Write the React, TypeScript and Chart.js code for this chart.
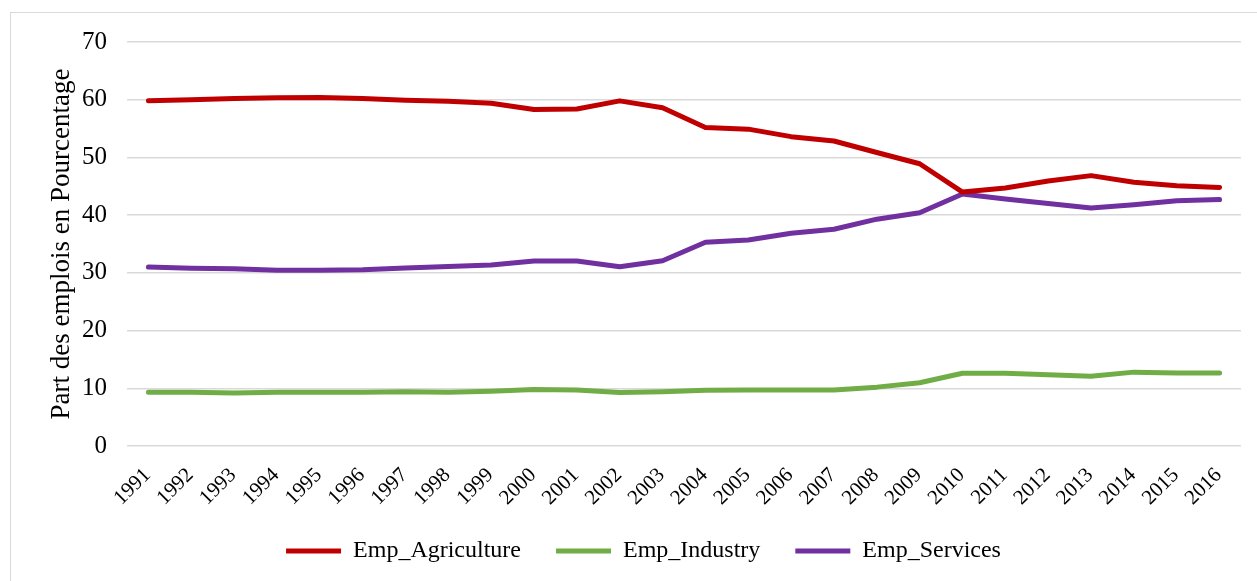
import React, { useEffect, useRef } from 'react';
import { Chart, registerables } from 'chart.js';

Chart.register(...registerables);

const years = ['1991', '1992', '1993', '1994', '1995', '1996', '1997', '1998', '1999', '2000', '2001', '2002', '2003', '2004', '2005', '2006', '2007', '2008', '2009', '2010', '2011', '2012', '2013', '2014', '2015', '2016'];

const agriculture = [59.8, 60.0, 60.2, 60.35, 60.4, 60.2, 59.9, 59.75, 59.4, 58.3, 58.4, 59.8, 58.6, 55.2, 54.9, 53.6, 52.85, 50.85, 48.9, 44.0, 44.7, 45.9, 46.85, 45.7, 45.1, 44.8];
const industry = [9.3, 9.3, 9.2, 9.3, 9.3, 9.3, 9.4, 9.3, 9.5, 9.8, 9.7, 9.25, 9.4, 9.65, 9.7, 9.7, 9.7, 10.2, 10.95, 12.6, 12.6, 12.35, 12.1, 12.8, 12.65, 12.65];
const services = [31.0, 30.8, 30.7, 30.45, 30.45, 30.55, 30.85, 31.1, 31.35, 32.05, 32.05, 31.05, 32.1, 35.3, 35.7, 36.85, 37.55, 39.3, 40.4, 43.65, 42.8, 42.0, 41.25, 41.8, 42.5, 42.7];

const seriesNames = ['Emp_Agriculture', 'Emp_Industry', 'Emp_Services'];
const seriesColors = ['#C00000', '#70AD47', '#7030A0'];
const yMin = 0;
const yMax = 70;
const yStep = 10;
const yTitle = 'Part des emplois en Pourcentage';

const FONT = '"Liberation Serif", "Times New Roman", serif';

// moves the bottom legend up so it sits closer to the rotated year labels
const legendNudge = {
  id: 'legendNudge',
  afterLayout(chart: any) {
    const l = chart.legend;
    if (l) {
      l.top -= 12;
    }
  },
};

export default function App() {
  const ref = useRef<HTMLCanvasElement | null>(null);

  useEffect(() => {
    if (!ref.current) return;
    const values = [agriculture, industry, services];
    const chart = new Chart(ref.current, {
      type: 'line',
      data: {
        labels: years,
        datasets: seriesNames.map((name, i) => ({
          label: name,
          data: values[i],
          borderColor: seriesColors[i],
          backgroundColor: seriesColors[i],
          borderWidth: 5,
          pointRadius: 0,
          pointHoverRadius: 0,
          tension: 0,
          borderCapStyle: 'round',
          borderJoinStyle: 'round',
          fill: false,
        })),
      },
      plugins: [legendNudge],
      options: {
        animation: false,
        responsive: false,
        maintainAspectRatio: false,
        layout: { padding: { left: 46, right: 16, top: 42, bottom: 8 } },
        plugins: {
          tooltip: { enabled: false },
          legend: {
            position: 'bottom',
            maxHeight: 57,
            labels: {
              font: { family: FONT, size: 24 },
              color: '#000',
              boxWidth: 55,
              boxHeight: 5,
              padding: 35,
              generateLabels: (c: any) =>
                c.data.datasets.map((ds: any, i: number) => ({
                  text: ds.label,
                  fillStyle: ds.borderColor,
                  strokeStyle: ds.borderColor,
                  lineWidth: 0,
                  fontColor: '#000',
                  hidden: false,
                  datasetIndex: i,
                })),
            },
          },
        },
        scales: {
          x: {
            offset: true,
            grid: { display: false, drawTicks: false },
            border: { display: false },
            ticks: {
              font: { family: FONT, size: 21 },
              color: '#000',
              minRotation: 45,
              maxRotation: 45,
              autoSkip: false,
              padding: 17,
              labelOffset: -1,
            },
            afterFit: (s: any) => {
              s.height = 70;
            },
          },
          y: {
            min: yMin,
            max: yMax,
            border: { display: false },
            grid: { color: '#d9d9d9', lineWidth: 1.5, drawTicks: false },
            ticks: {
              stepSize: yStep,
              font: { family: FONT, size: 25 },
              color: '#000',
              padding: 20,
            },
            title: {
              display: true,
              text: yTitle,
              font: { family: FONT, size: 27 },
              color: '#000',
              padding: 0,
            },
            afterFit: (s: any) => {
              s.width = 81;
            },
          },
        },
      },
    });
    return () => chart.destroy();
  }, []);

  return (
    <div style={{ position: 'fixed', left: 0, top: 0, width: 1257, height: 581, overflow: 'hidden', background: '#fff' }}>
      <div style={{ position: 'absolute', left: 10, top: 12, width: 1300, height: 700, border: '1.5px solid #d9d9d9' }} />
      <canvas ref={ref} width={1257} height={581} style={{ position: 'absolute', left: 0, top: 0, width: 1257, height: 581 }} />
    </div>
  );
}
